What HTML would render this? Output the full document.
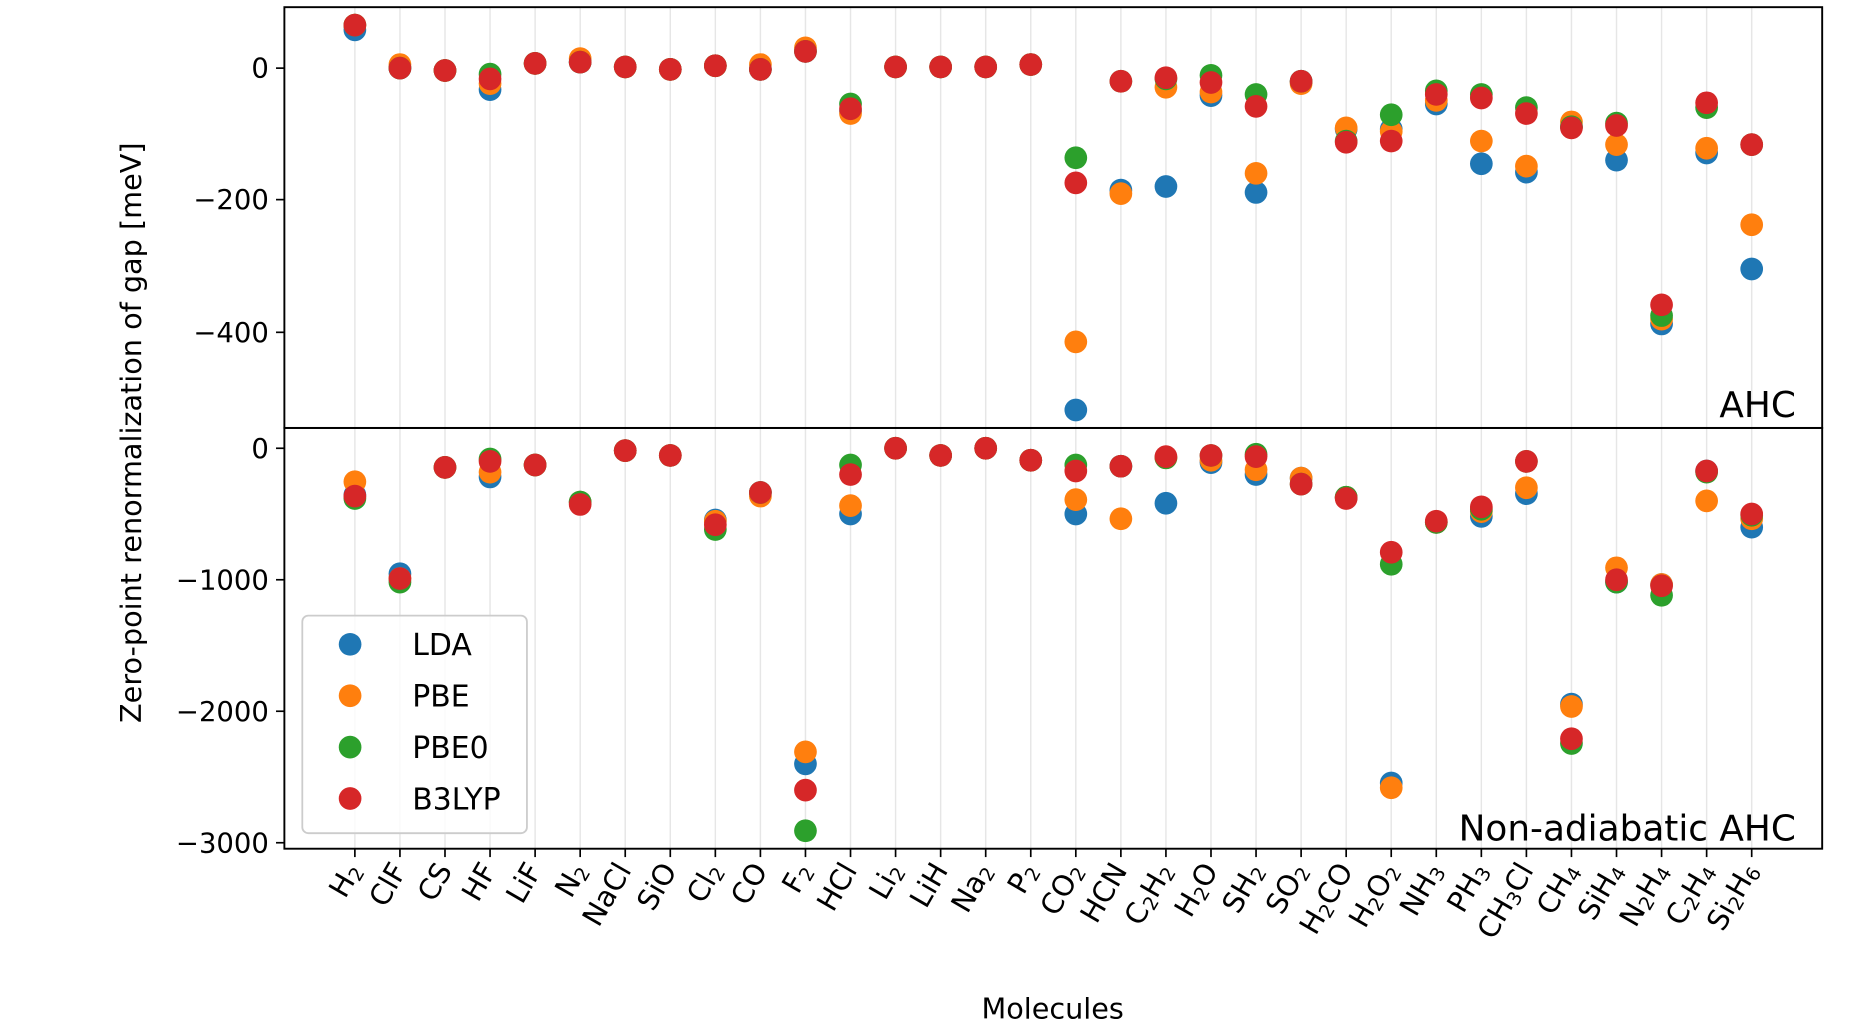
<!DOCTYPE html>
<html><head><meta charset="utf-8"><style>
html,body{margin:0;padding:0;background:#fff;}
svg{display:block;}
text{font-family:"DejaVu Sans","Liberation Sans",sans-serif;fill:#000;}
</style></head><body>
<svg id="s" width="1864" height="1034" viewBox="0 0 1560 865" preserveAspectRatio="none" xmlns="http://www.w3.org/2000/svg">
<g id="grid"></g>
<g id="dots"></g>
<rect x="238" y="6" width="1287" height="352" fill="none" stroke="#000" stroke-width="1.6"/>
<rect x="238" y="358" width="1287" height="352" fill="none" stroke="#000" stroke-width="1.6"/>
<g stroke="#000" stroke-width="1.4">
<line x1="231" y1="57" x2="238" y2="57"/><line x1="231" y1="167" x2="238" y2="167"/><line x1="231" y1="278" x2="238" y2="278"/>
<line x1="231" y1="375" x2="238" y2="375"/><line x1="231" y1="485" x2="238" y2="485"/><line x1="231" y1="595" x2="238" y2="595"/><line x1="231" y1="705" x2="238" y2="705"/>
</g>
<g id="xt" stroke="#000" stroke-width="1.4"></g>
<g font-size="23" text-anchor="end">
<text x="225" y="65">0</text><text x="225" y="175">−200</text><text x="225" y="286">−400</text>
<text x="225" y="383">0</text><text x="225" y="493">−1000</text><text x="225" y="603">−2000</text><text x="225" y="713">−3000</text>
</g>
<text x="1503" y="349" font-size="30" text-anchor="end">AHC</text>
<text x="1503" y="703" font-size="30" text-anchor="end">Non-adiabatic AHC</text>
<text x="881" y="852" font-size="24" text-anchor="middle">Molecules</text>
<text transform="translate(118,362) rotate(-90)" font-size="24" text-anchor="middle">Zero-point renormalization of gap [meV]</text>
<rect x="253" y="515" width="188" height="182" rx="5" fill="#fff" fill-opacity="0.8" stroke="#ccc" stroke-width="1.5"/>
<circle cx="293" cy="539" r="9.5" fill="#1f77b4"/><circle cx="293" cy="582" r="9.5" fill="#ff7f0e"/>
<circle cx="293" cy="625" r="9.5" fill="#2ca02c"/><circle cx="293" cy="668" r="9.5" fill="#d62728"/>
<g font-size="25"><text x="345" y="548">LDA</text><text x="345" y="591">PBE</text><text x="345" y="634">PBE0</text><text x="345" y="677">B3LYP</text></g>
<g id="lab" font-size="24" text-anchor="end">
<text transform="translate(303,728) rotate(-60)">H<tspan font-size="16" dy="3">2</tspan></text>
<text transform="translate(341,728) rotate(-60)">ClF</text>
<text transform="translate(379,728) rotate(-60)">CS</text>
<text transform="translate(416,728) rotate(-60)">HF</text>
<text transform="translate(454,728) rotate(-60)">LiF</text>
<text transform="translate(492,728) rotate(-60)">N<tspan font-size="16" dy="3">2</tspan></text>
<text transform="translate(529,728) rotate(-60)">NaCl</text>
<text transform="translate(567,728) rotate(-60)">SiO</text>
<text transform="translate(605,728) rotate(-60)">Cl<tspan font-size="16" dy="3">2</tspan></text>
<text transform="translate(643,728) rotate(-60)">CO</text>
<text transform="translate(680,728) rotate(-60)">F<tspan font-size="16" dy="3">2</tspan></text>
<text transform="translate(718,728) rotate(-60)">HCl</text>
<text transform="translate(756,728) rotate(-60)">Li<tspan font-size="16" dy="3">2</tspan></text>
<text transform="translate(794,728) rotate(-60)">LiH</text>
<text transform="translate(831,728) rotate(-60)">Na<tspan font-size="16" dy="3">2</tspan></text>
<text transform="translate(869,728) rotate(-60)">P<tspan font-size="16" dy="3">2</tspan></text>
<text transform="translate(907,728) rotate(-60)">CO<tspan font-size="16" dy="3">2</tspan></text>
<text transform="translate(944,728) rotate(-60)">HCN</text>
<text transform="translate(982,728) rotate(-60)">C<tspan font-size="16" dy="3">2</tspan><tspan dy="-3">H</tspan><tspan font-size="16" dy="3">2</tspan></text>
<text transform="translate(1020,728) rotate(-60)">H<tspan font-size="16" dy="3">2</tspan><tspan dy="-3">O</tspan></text>
<text transform="translate(1058,728) rotate(-60)">SH<tspan font-size="16" dy="3">2</tspan></text>
<text transform="translate(1095,728) rotate(-60)">SO<tspan font-size="16" dy="3">2</tspan></text>
<text transform="translate(1133,728) rotate(-60)">H<tspan font-size="16" dy="3">2</tspan><tspan dy="-3">CO</tspan></text>
<text transform="translate(1171,728) rotate(-60)">H<tspan font-size="16" dy="3">2</tspan><tspan dy="-3">O</tspan><tspan font-size="16" dy="3">2</tspan></text>
<text transform="translate(1208,728) rotate(-60)">NH<tspan font-size="16" dy="3">3</tspan></text>
<text transform="translate(1246,728) rotate(-60)">PH<tspan font-size="16" dy="3">3</tspan></text>
<text transform="translate(1284,728) rotate(-60)">CH<tspan font-size="16" dy="3">3</tspan><tspan dy="-3">Cl</tspan></text>
<text transform="translate(1322,728) rotate(-60)">CH<tspan font-size="16" dy="3">4</tspan></text>
<text transform="translate(1359,728) rotate(-60)">SiH<tspan font-size="16" dy="3">4</tspan></text>
<text transform="translate(1397,728) rotate(-60)">N<tspan font-size="16" dy="3">2</tspan><tspan dy="-3">H</tspan><tspan font-size="16" dy="3">4</tspan></text>
<text transform="translate(1435,728) rotate(-60)">C<tspan font-size="16" dy="3">2</tspan><tspan dy="-3">H</tspan><tspan font-size="16" dy="3">4</tspan></text>
<text transform="translate(1472,728) rotate(-60)">Si<tspan font-size="16" dy="3">2</tspan><tspan dy="-3">H</tspan><tspan font-size="16" dy="3">6</tspan></text>
</g>
</svg>
<script>
var NS="http://www.w3.org/2000/svg";
var top_=[[25,21,21,21],[57,54,57,57],[59,59,59,59],[75,70,62,66],[53,53,53,53],[52,49,52,52],[56,56,56,56],[58,58,58,58],[55,55,55,55],[58,54,58,58],[43,40,43,43],[93,95,87,91],[56,56,56,56],[56,56,56,56],[56,56,56,56],[54,54,54,54],[343,286,132,153],[159,162,68,68],[156,73,66,65],[80,77,63,69],[161,145,79,89],[68,70,68,68],[108,107,118,119],[108,110,96,118],[87,84,76,79],[137,118,79,82],[144,139,90,95],[106,102,106,107],[134,121,103,105],[271,267,264,255],[128,124,90,86],[225,188,121,121]];
var bot=[[414,403,417,415],[480,484,487,484],[391,391,391,391],[399,395,384,386],[389,389,389,389],[420,420,420,422],[377,377,377,377],[381,381,381,381],[435,436,443,439],[412,415,412,412],[639,629,695,661],[430,423,389,397],[375,375,375,375],[381,381,381,381],[375,375,375,375],[385,385,385,385],[430,418,389,394],[390,434,390,390],[421,383,383,382],[387,385,381,381],[397,393,380,382],[400,400,405,405],[416,416,416,417],[655,659,472,462],[437,437,437,436],[432,428,426,424],[413,408,386,386],[589,591,622,618],[487,475,487,485],[489,489,498,490],[394,419,395,394],[441,434,431,430]];
var cols=["#1f77b4","#ff7f0e","#2ca02c","#d62728"];
var g=document.getElementById("grid"),d=document.getElementById("dots"),xt=document.getElementById("xt");
function el(p,t,a){var e=document.createElementNS(NS,t);for(var k in a)e.setAttribute(k,a[k]);p.appendChild(e);}
for(var i=0;i<32;i++){var x=297+i*37.71;
el(g,"line",{x1:x,y1:6,x2:x,y2:710,stroke:"#e6e6e6","stroke-width":1.2});
el(xt,"line",{x1:x,y1:710,x2:x,y2:717});
for(var s=0;s<4;s++){el(d,"circle",{cx:x,cy:top_[i][s],r:9.5,fill:cols[s]});}
for(var s=0;s<4;s++){el(d,"circle",{cx:x,cy:bot[i][s],r:9.5,fill:cols[s]});}}
</script>
</body></html>
